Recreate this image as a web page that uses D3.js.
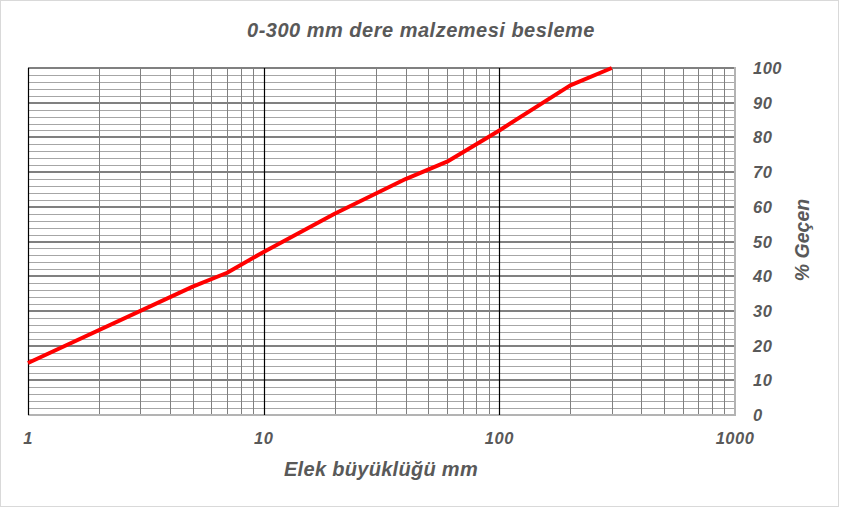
<!DOCTYPE html>
<html>
<head>
<meta charset="utf-8">
<script src="https://cdn.jsdelivr.net/npm/d3@7"></script>
<style>
  body { margin: 0; background: #fff; }
  svg text { font-family: "Liberation Sans", Arial, sans-serif; fill: #595959; font-weight: bold; font-style: italic; }
</style>
</head>
<body>
<svg id="chart" width="841" height="509"></svg>
<script>
// Data
const sieveSizes = [1, 5, 7, 10, 20, 40, 60, 100, 200, 300];
const passing    = [15, 37, 41, 47, 58, 68, 73, 82, 95, 100];
const xTicks = [1, 10, 100, 1000];
const yTicks = [0, 10, 20, 30, 40, 50, 60, 70, 80, 90, 100];

const svg = d3.select("#chart");
const W = 841, H = 509;
const m = { left: 28, right: 106, top: 68, bottom: 94 };

// Frame
svg.append("rect")
  .attr("x", 0.5).attr("y", 0.5)
  .attr("width", W - 3).attr("height", H - 3)
  .attr("fill", "#fff").attr("stroke", "#d9d9d9");

let x = d3.scaleLog().domain([1, 1000]).range([m.left, W - m.right]);
let y = d3.scaleLinear().domain([0, 100]).range([H - m.bottom, m.top]);

let grid = svg.append("g");

// Horizontal minor lines (every 2)
let minorY = d3.range(2, 100, 2).filter(d => d % 10 != 0);
grid.selectAll(".hmin").data(minorY).enter()
  .append("line")
  .attr("x1", x(1)).attr("x2", x(1000))
  .attr("y1", d => Math.round(y(d)) + 0.5).attr("y2", d => Math.round(y(d)) + 0.5)
  .attr("stroke", "#a6a6a6").attr("stroke-width", 1);

// Vertical minor lines
let minorX = [];
[1, 10, 100].forEach(function(dec) {
  for (let k = 2; k <= 9; k++) minorX.push(dec * k);
});
grid.selectAll(".vmin").data(minorX).enter()
  .append("line")
  .attr("x1", d => Math.round(x(d)) + 0.5).attr("x2", d => Math.round(x(d)) + 0.5)
  .attr("y1", y(100)).attr("y2", y(0))
  .attr("stroke", "#808080").attr("stroke-width", 1);

// Horizontal major lines
grid.selectAll(".hmaj").data(yTicks.filter(d => d > 0)).enter()
  .append("line")
  .attr("x1", x(1)).attr("x2", x(1000))
  .attr("y1", d => Math.round(y(d))).attr("y2", d => Math.round(y(d)))
  .attr("stroke", "#808080").attr("stroke-width", 2);

// Bottom and right border
grid.append("line")
  .attr("x1", x(1)).attr("x2", x(1000))
  .attr("y1", Math.round(y(0))).attr("y2", Math.round(y(0)))
  .attr("stroke", "#b3b3b3").attr("stroke-width", 2);
grid.append("line")
  .attr("x1", Math.round(x(1000))).attr("x2", Math.round(x(1000)))
  .attr("y1", y(100) - 1).attr("y2", y(0) + 1)
  .attr("stroke", "#b3b3b3").attr("stroke-width", 2);

// Decade lines
grid.selectAll(".vdec").data([1, 10, 100]).enter()
  .append("line")
  .attr("x1", d => Math.round(x(d)) + 0.5).attr("x2", d => Math.round(x(d)) + 0.5)
  .attr("y1", y(100)).attr("y2", y(0))
  .attr("stroke", "#000").attr("stroke-width", 1.2);

// Curve
let line = d3.line()
  .x((d, i) => x(sieveSizes[i]))
  .y(d => y(d));

svg.append("path")
  .datum(passing)
  .attr("d", line)
  .attr("fill", "none")
  .attr("stroke", "#ff0000")
  .attr("stroke-width", 4)
  .attr("stroke-linejoin", "round");

// Y tick labels (right side)
svg.selectAll(".ylab").data(yTicks).enter()
  .append("text")
  .attr("x", 753)
  .attr("y", d => y(d) + 6)
  .attr("font-size", "16.5px")
  .attr("letter-spacing", "0.5px")
  .text(d => d);

// X tick labels
svg.selectAll(".xlab").data(xTicks).enter()
  .append("text")
  .attr("x", d => x(d))
  .attr("y", 444)
  .attr("text-anchor", "middle")
  .attr("font-size", "16.5px")
  .attr("letter-spacing", "0.5px")
  .text(d => d);

// Titles
svg.append("text")
  .attr("x", 421).attr("y", 37)
  .attr("text-anchor", "middle")
  .attr("font-size", "20px")
  .attr("letter-spacing", "0.5px")
  .text("0-300 mm dere malzemesi besleme");

svg.append("text")
  .attr("x", 381).attr("y", 476)
  .attr("text-anchor", "middle")
  .attr("font-size", "20px")
  .attr("letter-spacing", "0.3px")
  .text("Elek büyüklüğü mm");

svg.append("text")
  .attr("transform", "translate(809,240) rotate(-90)")
  .attr("text-anchor", "middle")
  .attr("font-size", "19.5px")
  .text("% Geçen");
</script>
</body>
</html>
